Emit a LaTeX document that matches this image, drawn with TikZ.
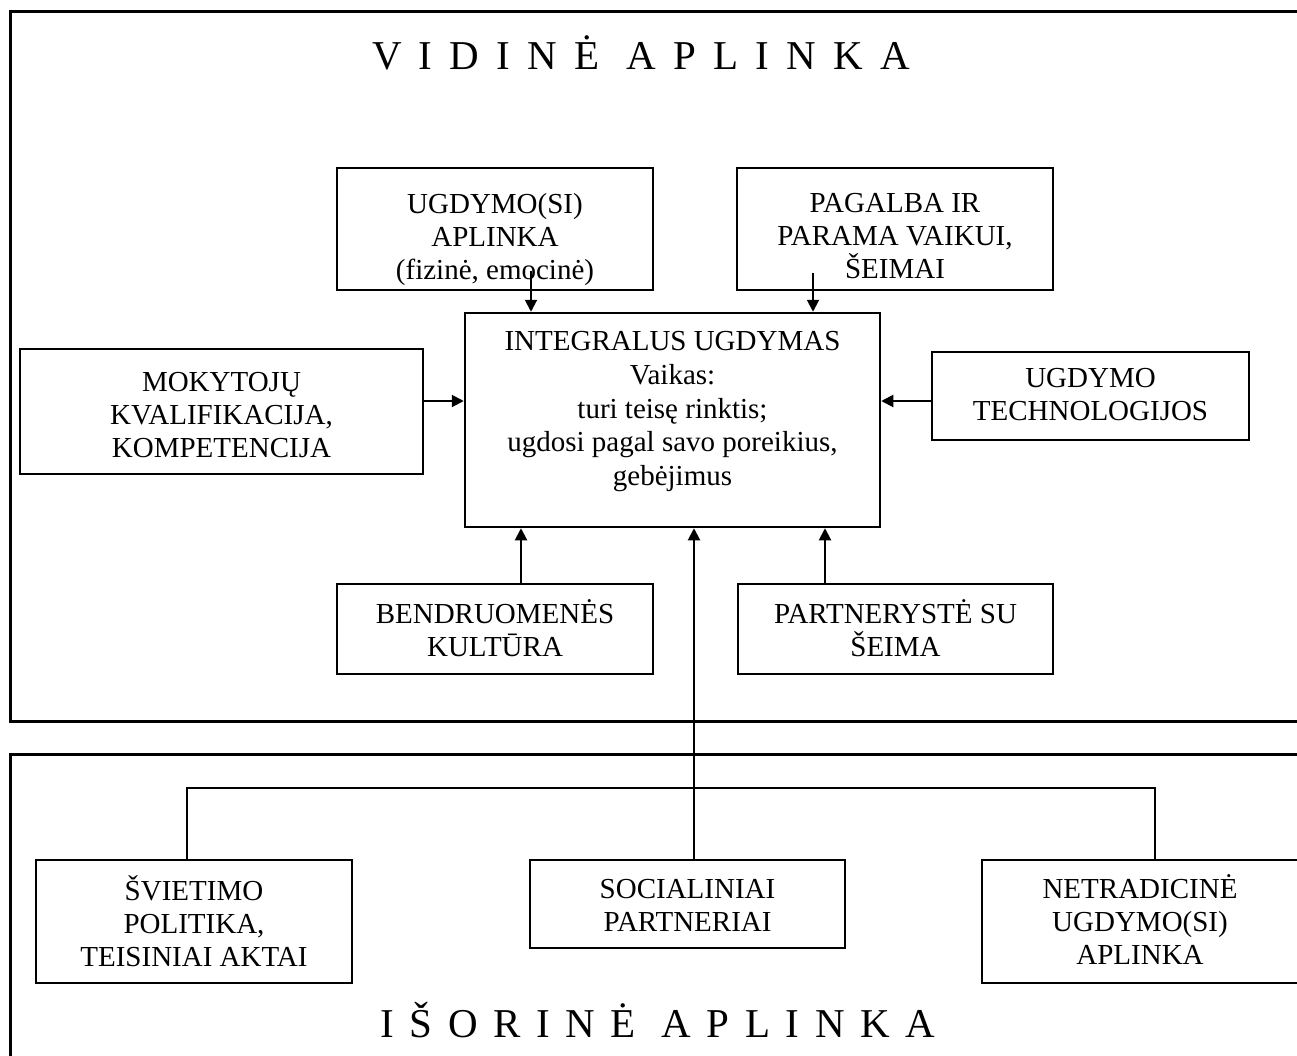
\documentclass[tikz,border=0pt]{standalone}
\usepackage{fontspec}
\setmainfont{Liberation Serif}
\usetikzlibrary{arrows.meta}
% box text: width, height, gap before first baseline (minus baselineskip), lines
\newcommand\bxtext[4]{\parbox[c][#2][t]{#1}{\centering\vspace*{#3}\prevdepth=0pt #4}}
\begin{document}
\begin{tikzpicture}[x=1pt,y=-1pt,
  box/.style={draw, line width=2.5pt, inner sep=0pt,
    font=\fontsize{29}{33}\selectfont},
  arr/.style={line width=2pt, -{Triangle[length=12pt,width=12pt]}},
  conn/.style={line width=1.4pt},
  outer/.style={line width=3pt},
  ttl/.style={inner sep=0pt, font=\fontsize{41}{45}\selectfont\addfontfeatures{LetterSpace=42}},
  ttlb/.style={inner sep=0pt, font=\fontsize{41}{45}\selectfont\addfontfeatures{LetterSpace=38}}]
\useasboundingbox (0,0) rectangle (1297,1055);
\clip (0,0) rectangle (1297,1055);
% outer frames
\draw[outer] (10,11) rectangle (1320,721);
\draw[outer] (10,754) rectangle (1320,1080);
\node[ttl] (vt) at (641,53) {VIDINĖ APLINKA};
\node[ttlb] (it) at (658,1020) {IŠORINĖ APLINKA};
% inner boxes
\node[box] (ugd) at (495,229) {\bxtext{316pt}{122pt}{12pt}{UGDYMO(SI)\\APLINKA\\(fizinė, emocinė)}};
\node[box] (pag) at (895,229) {\bxtext{316pt}{122pt}{11pt}{PAGALBA IR\\PARAMA VAIKUI,\\ŠEIMAI}};
\node[box, font=\fontsize{29}{33.7}\selectfont] (cen) at (672.5,420) {\bxtext{415pt}{214pt}{4pt}{INTEGRALUS UGDYMAS\\Vaikas:\\turi teisę rinktis;\\ugdosi pagal savo poreikius,\\gebėjimus}};
\node[box] (mok) at (221.5,411.5) {\bxtext{403pt}{125pt}{9.5pt}{MOKYTOJŲ\\KVALIFIKACIJA,\\KOMPETENCIJA}};
\node[box] (tech) at (1090.5,396) {\bxtext{317pt}{88pt}{2pt}{UGDYMO\\TECHNOLOGIJOS}};
\node[box] (ben) at (495,629) {\bxtext{316pt}{90pt}{6pt}{BENDRUOMENĖS\\KULTŪRA}};
\node[box] (par) at (895.5,629) {\bxtext{315pt}{90pt}{6pt}{PARTNERYSTĖ SU\\ŠEIMA}};
% external boxes
\node[box] (svi) at (194,921.5) {\bxtext{316pt}{123pt}{7pt}{ŠVIETIMO\\POLITIKA,\\TEISINIAI AKTAI}};
\node[box] (soc) at (687.5,904) {\bxtext{315pt}{88pt}{5pt}{SOCIALINIAI\\PARTNERIAI}};
\node[box] (net) at (1140,921.5) {\bxtext{316pt}{123pt}{5pt}{NETRADICINĖ\\UGDYMO(SI)\\APLINKA}};
% arrows into the centre
\coordinate (u1) at ([xshift=36pt,yshift=20pt]ugd.south);
\draw[arr] (u1) -- (u1 |- cen.north);
\coordinate (p1) at ([xshift=-82pt,yshift=18pt]pag.south);
\draw[arr] (p1) -- (p1 |- cen.north);
\coordinate (m1) at ([yshift=10.5pt]mok.east);
\draw[arr] (m1) -- (m1 -| cen.west);
\coordinate (t1) at ([yshift=-5pt]tech.west);
\draw[arr] (t1) -- (t1 -| cen.east);
\coordinate (b1) at ([xshift=26pt]ben.north);
\draw[arr] (b1) -- (b1 |- cen.south);
\coordinate (r1) at ([xshift=-70.5pt]par.north);
\draw[arr] (r1) -- (r1 |- cen.south);
% external connector
\coordinate (j) at (694,788);
\coordinate (js) at (187,788);
\coordinate (jn) at (1155,788);
\draw[arr] (j) -- (j |- cen.south);
\draw[conn] (js |- svi.north) -- (js) -- (jn) -- (jn |- net.north);
\draw[conn] (j) -- (j |- soc.north);
\end{tikzpicture}
\end{document}
